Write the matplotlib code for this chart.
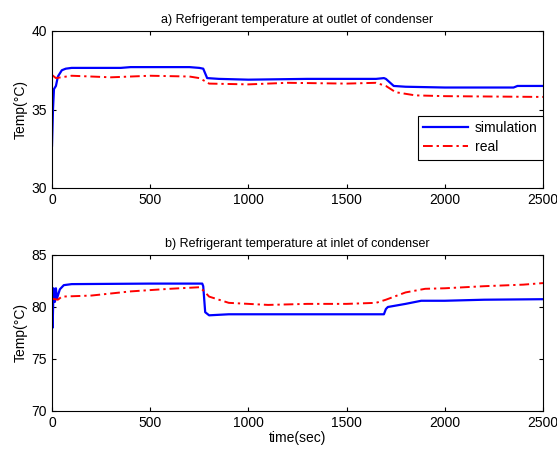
import matplotlib
matplotlib.use("Agg")
import matplotlib.pyplot as plt

plt.rcParams['font.family'] = ['Liberation Sans', 'DejaVu Sans']

# Top panel: outlet of condenser
t_sim_a = [0, 5, 10, 20, 30, 50, 70, 100, 350, 400, 500, 700, 750, 770, 790, 850, 1000, 1300, 1650, 1690, 1700, 1740, 1800, 2000, 2350, 2370, 2500]
v_sim_a = [32.7, 35.0, 36.3, 36.5, 37.1, 37.5, 37.6, 37.65, 37.65, 37.7, 37.7, 37.7, 37.65, 37.6, 37.0, 36.95, 36.9, 36.95, 36.95, 37.0, 36.95, 36.5, 36.45, 36.4, 36.4, 36.5, 36.5]
t_real_a = [0, 20, 100, 300, 500, 700, 750, 780, 800, 1000, 1200, 1500, 1650, 1700, 1750, 1850, 2000, 2500]
v_real_a = [37.2, 37.0, 37.15, 37.05, 37.15, 37.1, 37.0, 36.8, 36.65, 36.6, 36.7, 36.65, 36.7, 36.5, 36.1, 35.9, 35.85, 35.8]

# Bottom panel: inlet of condenser
t_sim_b = [0, 3, 8, 15, 20, 25, 40, 60, 100, 500, 765, 770, 780, 800, 900, 1500, 1690, 1700, 1710, 1800, 1880, 2000, 2200, 2500]
v_sim_b = [80.5, 78.0, 81.8, 80.5, 81.8, 80.8, 81.7, 82.1, 82.2, 82.25, 82.25, 82.0, 79.5, 79.2, 79.3, 79.3, 79.3, 79.8, 80.0, 80.3, 80.6, 80.6, 80.7, 80.75]
t_real_b = [0, 30, 50, 200, 400, 600, 750, 770, 800, 900, 1100, 1300, 1500, 1650, 1700, 1800, 1900, 2000, 2200, 2400, 2500]
v_real_b = [80.8, 80.7, 81.0, 81.1, 81.5, 81.75, 81.9, 81.6, 81.0, 80.4, 80.2, 80.3, 80.3, 80.4, 80.7, 81.4, 81.75, 81.8, 82.0, 82.15, 82.3]

xticks = [0, 500, 1000, 1500, 2000, 2500]

fig = plt.figure(figsize=(5.57, 4.54), dpi=100)
W, H = 557, 454
ax1 = fig.add_axes([52 / W, 1 - 188 / H, 491 / W, 157 / H])
ax2 = fig.add_axes([52 / W, 1 - 411 / H, 491 / W, 156 / H])

dash = (0, (5, 2, 1.2, 2))

for ax in (ax1, ax2):
    ax.tick_params(direction='in', top=True, right=True, labelsize=10, length=3)
    ax.set_xlim(0, 2500)
    ax.set_xticks(xticks)
    ax.set_ylabel('Temp(°C)', fontsize=10, labelpad=3)
    for s in ax.spines.values():
        s.set_linewidth(0.8)

ax1.plot(t_sim_a, v_sim_a, color='#0000ff', lw=1.6, label='simulation')
ax1.plot(t_real_a, v_real_a, color='#ff0000', lw=1.4, ls=dash, label='real')
ax1.set_ylim(30, 40)
ax1.set_yticks([30, 35, 40])
ax1.set_title('a) Refrigerant temperature at outlet of condenser', fontsize=9, pad=6)
leg = ax1.legend(loc='lower right', bbox_to_anchor=(1.0, 0.18), fontsize=10,
                 fancybox=False, edgecolor='black', framealpha=1,
                 borderaxespad=0, handlelength=3.2, borderpad=0.4,
                 handletextpad=0.5, labelspacing=0.35)
leg.get_frame().set_linewidth(0.8)

ax2.plot(t_sim_b, v_sim_b, color='#0000ff', lw=1.6)
ax2.plot(t_real_b, v_real_b, color='#ff0000', lw=1.4, ls=dash)
ax2.set_ylim(70, 85)
ax2.set_yticks([70, 75, 80, 85])
ax2.set_title('b) Refrigerant temperature at inlet of condenser', fontsize=9, pad=6)
ax2.set_xlabel('time(sec)', fontsize=10, labelpad=1)

fig.savefig('out.png', dpi=100)
